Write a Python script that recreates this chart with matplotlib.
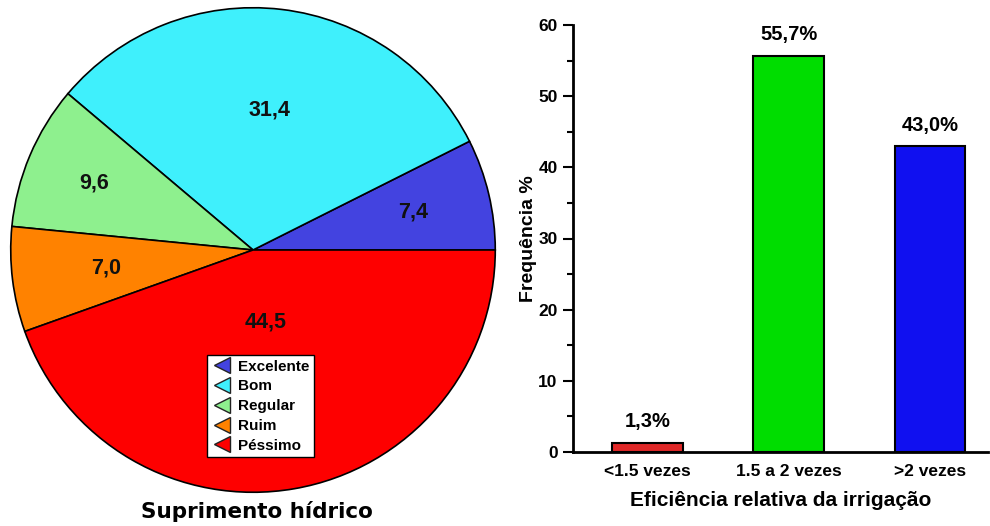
import matplotlib.pyplot as plt
import numpy as np
from matplotlib.lines import Line2D
from matplotlib.ticker import MultipleLocator

# suprimento hidrico (%)
pie_labels = ['Excelente', 'Bom', 'Regular', 'Ruim', 'Péssimo']
pie_values = [7.4, 31.4, 9.6, 7.0, 44.5]
pie_colors = ['#4343e0', '#3ff0fc', '#8ef08e', '#ff8200', '#fe0000']
pie_text_r = [0.68, 0.58, 0.71, 0.61, 0.30]

# eficiencia relativa da irrigacao (%)
bar_labels = ['<1.5 vezes', '1.5 a 2 vezes', '>2 vezes']
bar_values = [1.3, 55.7, 43.0]
bar_colors = ['#e02828', '#00dd00', '#1010f0']

fig = plt.figure(figsize=(9.9, 5.26), dpi=100)

# --- pie ---
ax1 = fig.add_axes([10/990, 33/526, 486/990, 486/526])
wedges, _ = ax1.pie(pie_values, colors=pie_colors, startangle=0, counterclock=True,
                    radius=1.0, wedgeprops=dict(edgecolor='black', linewidth=1.2))
ax1.set_xlim(-1.003, 1.003)
ax1.set_ylim(-1.003, 1.003)
ax1.set_aspect('equal')

total = sum(pie_values)
start = 0.0
for v, r in zip(pie_values, pie_text_r):
    mid = np.deg2rad(start + v / total * 360 / 2)
    ax1.text(r * np.cos(mid), r * np.sin(mid), f'{v:.1f}'.replace('.', ','),
             ha='center', va='center', fontsize=15.5, fontweight='bold',
             family='Liberation Sans', color='#111111')
    start += v / total * 360

handles = [Line2D([], [], marker='<', linestyle='none', markersize=12,
                  markerfacecolor=c, markeredgecolor='#222222', markeredgewidth=1.0)
           for c in pie_colors]
leg = ax1.legend(handles, pie_labels, loc='upper left',
                 bbox_to_anchor=((207 - 10) / 486, (493 - 355) / 486),
                 prop=dict(family='Liberation Sans', weight='bold', size=11),
                 frameon=True, fancybox=False, edgecolor='black', framealpha=1,
                 handletextpad=0.3, labelspacing=0.38, borderpad=0.3,
                 handlelength=1.4, borderaxespad=0)
leg.get_frame().set_linewidth(1.0)

fig.text(257/990, 1 - 512/526, 'Suprimento hídrico', ha='center', va='center',
         fontsize=15.5, fontweight='bold', family='DejaVu Sans')

# --- bars ---
ax2 = fig.add_axes([573/990, 74/526, 415/990, 427/526])
x = np.arange(len(bar_values))
ax2.bar(x, bar_values, width=0.5, color=bar_colors, edgecolor='black', linewidth=1.5)
for xi, v in zip(x, bar_values):
    ax2.text(xi, v + 1.6, f'{v:.1f}%'.replace('.', ','), ha='center', va='bottom',
             fontsize=14.5, fontweight='bold', family='Liberation Sans')

ax2.set_xlim(-0.527, 2.41)
ax2.set_ylim(0, 60)
ax2.yaxis.set_major_locator(MultipleLocator(10))
ax2.yaxis.set_minor_locator(MultipleLocator(5))
ax2.set_xticks(x)
ax2.set_xticklabels(bar_labels)
ax2.tick_params(axis='x', length=0, pad=9)
ax2.tick_params(axis='y', which='major', direction='out', length=7, width=1.5, pad=4)
ax2.tick_params(axis='y', which='minor', direction='out', length=4, width=1.5)
for lab in ax2.get_xticklabels() + ax2.get_yticklabels():
    lab.set_fontsize(12.5)
    lab.set_fontweight('bold')
    lab.set_family('Liberation Sans')

for s in ['top', 'right']:
    ax2.spines[s].set_visible(False)
for s in ['left', 'bottom']:
    ax2.spines[s].set_linewidth(2)

ax2.set_ylabel('Frequência %', fontsize=14, fontweight='bold',
               family='Liberation Sans', labelpad=1)
ax2.set_xlabel('Eficiência relativa da irrigação', fontsize=15, fontweight='bold',
               family='Liberation Sans', labelpad=8)

fig.savefig('out.png', dpi=100)
